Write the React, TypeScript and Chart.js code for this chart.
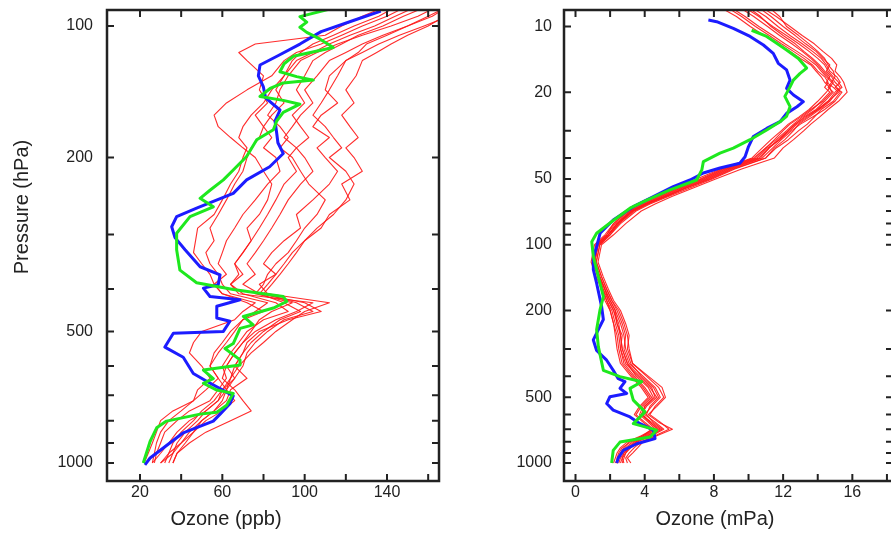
import React, { useEffect, useRef } from "react";
import { Chart, registerables } from "chart.js";
Chart.register(...registerables);

const FONT = "'Liberation Sans', Arial, Helvetica, sans-serif";
const INK = "#222";

// ---------- axes ----------
const ppbPressureTicks = [100, 200, 300, 400, 500, 600, 700, 800, 900, 1000];
const ppbPressureLabels = [100, 200, 500, 1000];
const ppbTicks = [20, 40, 60, 80, 100, 120, 140, 160];
const ppbLabels = [20, 60, 100, 140];

const mpaPressureTicks = [10, 20, 30, 40, 50, 60, 70, 80, 90, 100, 200, 300, 400, 500, 600, 700, 800, 900, 1000];
const mpaPressureLabels = [10, 20, 50, 100, 200, 500, 1000];
const mpaTicks = [0, 2, 4, 6, 8, 10, 12, 14, 16, 18];
const mpaLabels = [0, 4, 8, 12, 16];

// ---------- left panel: ozone mixing ratio (ppb) ----------
const ppbLevels = [90, 95, 100, 105, 110, 115, 120, 130, 140, 150, 160, 170, 180, 190, 200, 215, 230, 250, 270, 290, 310, 330, 350, 370, 390, 410, 430, 450, 470, 500, 530, 560, 600, 640, 680, 720, 760, 800, 850, 900, 950, 1000];
const redPpb1 = [175, 168, 160, 150, 142, 135, 128, 125, 120, 124, 118, 122, 126, 120, 124, 128, 118, 122, 112, 108, 100, 96, 92, 88, 84, 80, 96, 104, 90, 82, 76, 72, 70, 66, 62, 58, 52, 48, 42, 38, 36, 34];
const redPpb2 = [170, 160, 150, 140, 130, 126, 120, 112, 110, 116, 108, 104, 112, 106, 110, 116, 112, 104, 96, 98, 90, 84, 80, 86, 78, 82, 112, 100, 94, 86, 80, 74, 68, 64, 60, 56, 50, 46, 40, 36, 34, 32];
const redPpb3 = [160, 148, 138, 126, 118, 110, 104, 100, 96, 100, 94, 98, 102, 96, 100, 104, 98, 92, 88, 84, 80, 76, 72, 76, 70, 78, 100, 108, 92, 78, 72, 70, 66, 72, 64, 62, 56, 50, 44, 40, 36, 30];
const redPpb4 = [150, 140, 128, 118, 108, 96, 90, 84, 72, 62, 56, 58, 64, 70, 76, 80, 84, 82, 78, 72, 74, 70, 66, 68, 64, 70, 86, 92, 80, 72, 68, 64, 60, 62, 58, 54, 44, 38, 32, 30, 28, 27];
const redPpb5 = [165, 155, 142, 128, 116, 106, 98, 92, 88, 86, 82, 88, 92, 88, 94, 98, 102, 110, 106, 100, 96, 92, 86, 82, 80, 76, 94, 84, 78, 74, 70, 66, 62, 66, 60, 58, 52, 44, 38, 34, 30, 26];
const redPpb6 = [140, 128, 118, 110, 76, 68, 72, 80, 78, 82, 76, 80, 84, 80, 86, 88, 82, 76, 70, 66, 62, 60, 58, 62, 56, 60, 72, 80, 70, 66, 62, 58, 54, 58, 52, 46, 36, 30, 28, 26, 24, 22];
const redPpb7 = [180, 170, 158, 146, 136, 128, 120, 116, 112, 108, 104, 110, 114, 118, 112, 120, 124, 120, 114, 106, 100, 94, 90, 86, 82, 78, 90, 98, 88, 80, 74, 70, 66, 64, 62, 60, 56, 50, 46, 42, 38, 36];
const redPpb8 = [155, 144, 134, 122, 112, 104, 96, 90, 84, 80, 74, 70, 68, 72, 70, 68, 64, 60, 56, 48, 47, 46, 50, 54, 56, 60, 76, 70, 66, 50, 46, 44, 50, 54, 48, 46, 40, 34, 30, 28, 27, 26];
const redPpb9 = [145, 136, 124, 114, 104, 98, 94, 90, 86, 90, 84, 80, 78, 74, 72, 70, 66, 62, 58, 54, 56, 52, 54, 58, 60, 64, 82, 76, 70, 64, 60, 56, 54, 58, 62, 66, 60, 52, 46, 40, 34, 30];
const redPpb10 = [170, 162, 150, 138, 128, 120, 112, 106, 100, 104, 98, 94, 90, 96, 92, 96, 90, 86, 82, 78, 74, 70, 66, 70, 64, 68, 104, 96, 86, 76, 70, 66, 62, 60, 66, 70, 74, 64, 52, 44, 38, 36];

const bluePpbP = [92.5, 97, 103, 110, 117, 122.8, 130, 137.6, 146, 155.7, 165, 175.7, 185, 195.8, 210, 225, 241.5, 261, 273, 288, 305, 325, 355.6, 371, 391, 398, 416, 423, 438, 466, 474, 500, 505, 543, 573, 624, 650, 702, 732, 773, 802, 853, 924, 974, 1010];
const bluePpb = [137, 124, 108, 97.7, 87, 78.3, 77.5, 79.9, 81, 88, 85.6, 86.4, 87, 89.6, 83, 71.8, 65.3, 47.5, 37.8, 35.4, 37, 41.9, 49.2, 58.9, 58, 50.8, 54, 68.6, 57.3, 57.3, 63.7, 60.5, 36.2, 32.1, 41, 45.9, 52.4, 65.3, 63.7, 58.9, 55.6, 41, 31.3, 24.9, 22.4];

const greenPpbP = [91, 95.2, 98, 100.7, 103.4, 107.2, 112, 117.3, 122, 127.3, 130.6, 133, 135, 139, 145, 148, 151, 157.6, 165, 172.7, 182.1, 198.9, 213.5, 225, 237.6, 248, 259.3, 273, 298, 325, 362, 387, 401, 416, 427, 442, 462, 483, 492, 533, 547, 581, 597, 613, 641, 657, 681, 693, 738, 765, 773, 802, 831, 893, 1000];
const greenPpb = [114, 97.7, 101, 97.7, 101, 107.5, 113.9, 94.5, 90, 88, 96.1, 104.2, 89.6, 83.2, 78.3, 89.6, 97.7, 89.6, 86.4, 84.8, 76.7, 71.8, 65.3, 60.5, 54, 49.2, 55.6, 44.3, 37.8, 37.8, 39.4, 47.5, 65.3, 89.6, 91.3, 84.8, 70.2, 75, 68.6, 65.3, 61.3, 68.6, 68.6, 50.8, 55.6, 50.8, 57.3, 65.3, 62.1, 57.3, 49.2, 32.9, 28.1, 24.9, 21.6];

// ---------- right panel: ozone partial pressure (mPa) ----------
const mpaLevels = [8.2, 9, 10, 11, 12, 13, 14, 15, 16, 17, 18, 19, 20, 22, 24, 26, 28, 30, 33, 36, 40, 45, 50, 55, 60, 65, 70, 80, 90, 100, 120, 140, 160, 180, 200, 230, 260, 300, 350, 400, 450, 500, 550, 600, 650, 700, 750, 800, 850, 900, 950, 1000];
const redMpa1 = [10.8, 11.6, 12.4, 13.1, 13.8, 14.3, 14.8, 15.1, 15.0, 15.3, 15.5, 15.6, 15.7, 15.2, 14.6, 14.1, 13.6, 13.2, 12.6, 12.0, 11.5, 9.6, 8.1, 6.8, 5.6, 4.6, 3.8, 2.9, 2.2, 1.5, 1.3, 1.6, 1.9, 2.2, 2.6, 2.9, 3.1, 3.0, 3.3, 4.1, 4.8, 5.1, 4.6, 4.3, 4.9, 5.4, 4.6, 3.8, 3.4, 3.1, 2.9, 3.0];
const redMpa2 = [9.0, 9.8, 10.6, 11.4, 12.1, 12.8, 13.4, 13.9, 14.2, 14.5, 14.8, 14.6, 14.9, 14.4, 13.9, 13.2, 12.7, 12.3, 11.8, 11.2, 10.6, 8.8, 7.5, 6.2, 5.1, 4.1, 3.3, 2.4, 1.9, 1.3, 1.1, 1.4, 1.7, 2.0, 2.3, 2.4, 2.7, 2.6, 2.9, 3.6, 4.3, 4.7, 4.1, 3.8, 4.4, 4.9, 4.1, 3.4, 3.0, 2.8, 2.7, 2.6];
const redMpa3 = [11.2, 11.8, 12.2, 12.9, 13.5, 14.0, 14.4, 14.6, 14.9, 15.0, 14.8, 15.1, 15.3, 14.9, 14.2, 13.8, 13.4, 12.9, 12.3, 11.6, 11.0, 9.2, 7.9, 6.6, 5.4, 4.3, 3.5, 2.6, 2.0, 1.4, 1.2, 1.5, 1.8, 2.1, 2.4, 2.7, 2.9, 2.8, 3.1, 3.9, 4.6, 4.9, 4.4, 4.0, 4.6, 5.1, 4.4, 3.6, 3.2, 2.9, 2.8, 2.7];
const redMpa4 = [8.4, 9.3, 10.1, 10.9, 11.7, 12.4, 13.0, 13.6, 13.9, 14.2, 14.4, 14.7, 14.5, 14.0, 13.5, 12.9, 12.3, 11.9, 11.3, 10.8, 10.2, 8.4, 7.0, 5.8, 4.7, 3.8, 3.0, 2.2, 1.7, 1.1, 0.9, 1.2, 1.5, 1.7, 2.0, 2.2, 2.3, 2.4, 2.6, 3.2, 3.8, 4.2, 3.7, 3.4, 3.9, 4.4, 3.9, 3.2, 2.7, 2.5, 2.4, 2.4];
const redMpa5 = [10.2, 11.0, 11.7, 12.4, 13.1, 13.7, 14.2, 14.5, 14.7, 15.1, 15.3, 15.0, 15.4, 15.0, 14.4, 13.7, 13.0, 12.5, 11.9, 11.4, 10.8, 9.0, 7.7, 6.4, 5.3, 4.2, 3.4, 2.5, 1.9, 1.3, 1.1, 1.4, 1.7, 2.0, 2.3, 2.6, 2.8, 2.9, 3.2, 3.8, 4.5, 4.8, 4.3, 4.1, 4.5, 5.0, 4.3, 3.5, 3.1, 2.8, 2.6, 2.5];
const redMpa6 = [9.5, 10.3, 11.1, 11.8, 12.5, 13.1, 13.6, 14.0, 14.3, 14.6, 14.9, 14.7, 14.8, 14.3, 13.6, 13.0, 12.4, 12.0, 11.5, 11.0, 10.4, 8.6, 7.3, 6.0, 4.9, 4.0, 3.2, 2.3, 1.8, 1.2, 1.0, 1.3, 1.6, 1.8, 2.1, 2.3, 2.5, 2.6, 2.8, 3.4, 4.0, 4.4, 3.9, 3.7, 4.2, 4.6, 3.9, 3.1, 2.8, 2.6, 2.5, 2.3];
const redMpa7 = [10.6, 11.3, 12.0, 12.7, 13.3, 13.9, 14.3, 14.7, 14.5, 14.8, 15.0, 15.3, 15.0, 14.6, 14.0, 13.4, 12.8, 12.4, 11.8, 11.1, 10.5, 8.7, 7.4, 6.1, 5.0, 4.0, 3.2, 2.4, 1.9, 1.3, 1.1, 1.4, 1.6, 1.9, 2.2, 2.5, 2.6, 2.7, 3.0, 3.7, 4.4, 4.6, 4.0, 3.9, 4.3, 4.8, 4.2, 3.5, 3.1, 2.9, 2.7, 2.8];
const redMpa8 = [8.8, 9.6, 10.4, 11.2, 11.9, 12.6, 13.2, 13.7, 14.0, 14.4, 14.6, 14.4, 14.7, 14.2, 13.7, 13.1, 12.6, 12.2, 11.6, 11.0, 10.3, 8.5, 7.2, 5.9, 4.8, 3.9, 3.1, 2.2, 1.8, 1.2, 1.0, 1.3, 1.5, 1.8, 2.0, 2.2, 2.4, 2.5, 2.7, 3.3, 3.9, 4.3, 3.8, 3.5, 4.0, 4.5, 3.8, 3.0, 2.6, 2.4, 2.3, 2.2];
const redMpa9 = [9.8, 10.6, 11.4, 12.2, 12.9, 13.5, 14.0, 14.4, 14.6, 14.9, 15.2, 15.4, 15.1, 14.7, 14.1, 13.5, 12.9, 12.6, 12.1, 11.5, 11.0, 9.1, 7.8, 6.4, 5.2, 4.1, 3.3, 2.5, 2.0, 1.4, 1.2, 1.5, 1.8, 2.1, 2.5, 2.8, 3.0, 3.1, 3.3, 4.2, 5.0, 5.2, 4.7, 4.2, 4.8, 5.6, 4.7, 3.9, 3.6, 3.3, 3.0, 3.2];
const redMpa10 = [10.0, 10.7, 11.3, 12.0, 12.7, 13.2, 13.7, 14.1, 14.4, 14.7, 14.5, 14.9, 15.2, 14.6, 14.0, 13.3, 12.7, 12.3, 11.7, 11.2, 10.7, 8.9, 7.6, 6.3, 5.2, 4.1, 3.3, 2.4, 1.9, 1.3, 1.1, 1.4, 1.7, 1.9, 2.2, 2.4, 2.6, 2.7, 3.0, 3.5, 4.2, 4.5, 4.0, 3.8, 4.3, 4.7, 4.0, 3.3, 2.9, 2.6, 2.5, 2.4];

const blueMpaP = [9.34, 9.5, 10.2, 11.1, 12.15, 13.27, 14.74, 15.81, 17.58, 19.2, 20.6, 22.1, 23.3, 25, 27.3, 29.3, 31.9, 35.5, 39.5, 42.3, 44.5, 46.9, 50.5, 54.2, 60.2, 66.9, 77, 88.6, 102, 115, 130, 150, 192, 220, 245, 273, 305, 338, 376, 411, 424, 455, 480, 497, 534, 572, 615, 660, 707, 773, 816, 875, 950, 1000];
const blueMpa = [7.68, 8.16, 9.12, 10.09, 10.86, 11.43, 11.72, 12.2, 12.4, 12.2, 12.6, 13.17, 12.8, 12.2, 11.82, 11.05, 10.28, 10, 9.8, 9.5, 8.35, 7.39, 6.62, 5.65, 4.5, 3.34, 2.18, 1.42, 1.22, 1.03, 1.03, 1.22, 1.51, 1.61, 1.32, 1.03, 1.22, 1.8, 2.18, 2.47, 2.86, 2.57, 2.96, 1.99, 1.8, 2.18, 3.15, 3.73, 4.5, 4.6, 3.54, 2.76, 2.47, 2.38];

const greenMpaP = [10.4, 11.1, 11.94, 12.8, 14.0, 15.5, 16.4, 17.6, 18.9, 20.9, 23.3, 25.8, 27.3, 29.8, 33, 36.1, 38, 41.6, 45.4, 50.5, 56, 62.4, 68, 79.5, 88.6, 96.9, 113, 140, 173, 198, 245, 293, 376, 402, 424, 455, 515, 583, 660, 707, 760, 802, 875, 1000];
const greenMpa = [10.18, 11.05, 11.63, 12.2, 12.88, 13.36, 12.98, 12.59, 12.4, 12.1, 12.4, 12.2, 11.82, 11.05, 10.09, 9.12, 8.35, 7.39, 7.3, 7.0, 5.46, 4.12, 3.15, 1.99, 1.22, 0.94, 1.03, 1.32, 1.61, 1.42, 1.22, 1.32, 1.61, 2.57, 3.83, 3.15, 3.34, 4.02, 3.34, 4.69, 4.31, 2.57, 2.18, 2.09];

const redPpbSeries = [redPpb1, redPpb2, redPpb3, redPpb4, redPpb5, redPpb6, redPpb7, redPpb8, redPpb9, redPpb10];
const redMpaSeries = [redMpa1, redMpa2, redMpa3, redMpa4, redMpa5, redMpa6, redMpa7, redMpa8, redMpa9, redMpa10];

const RED = "rgba(255,25,25,0.92)";
const BLUE = "rgb(28,28,255)";
const GREEN = "rgb(30,232,30)";

function pts(ozone: number[], pres: number[]) {
  return ozone.map((o, i) => ({ x: o, y: pres[i] }));
}

function lineDs(data: any[], color: string, width: number) {
  return {
    data,
    borderColor: color,
    borderWidth: width,
    pointRadius: 0,
    showLine: true,
    fill: false,
    tension: 0,
    borderJoinStyle: "round" as const,
  };
}

const frameTicks = {
  id: "frameTicks",
  afterDatasetsDraw(chart: any, _args: any, opts: any) {
    const { ctx, chartArea: a, scales } = chart;
    const xs = scales.x;
    const ys = scales.y;
    const L = 7;
    ctx.save();
    ctx.strokeStyle = INK;
    ctx.lineWidth = 2;
    ctx.beginPath();
    xs.ticks.forEach((t: any) => {
      const px = xs.getPixelForValue(t.value);
      ctx.moveTo(px, a.bottom);
      ctx.lineTo(px, a.bottom - L);
      ctx.moveTo(px, a.top);
      ctx.lineTo(px, a.top + L);
    });
    ys.ticks.forEach((t: any) => {
      const py = ys.getPixelForValue(t.value);
      ctx.moveTo(a.left, py);
      ctx.lineTo(a.left + L, py);
      ctx.moveTo(a.right, py);
      ctx.lineTo(a.right - L, py);
    });
    ctx.stroke();
    ctx.lineWidth = 2.5;
    ctx.strokeRect(a.left, a.top, a.right - a.left, a.bottom - a.top);
    // axis titles
    ctx.fillStyle = INK;
    ctx.font = `20px ${FONT}`;
    ctx.textAlign = "center";
    ctx.textBaseline = "middle";
    (opts.titles || []).forEach((t: any) => {
      ctx.save();
      ctx.translate(t.x, t.y);
      if (t.rotate) ctx.rotate(-Math.PI / 2);
      ctx.fillText(t.text, 0, 0);
      ctx.restore();
    });
    ctx.restore();
  },
};

type Panel = {
  datasets: any[];
  xMin: number; xMax: number; yMin: number; yMax: number;
  xTicks: number[]; xLabels: number[]; yTicks: number[]; yLabels: number[];
  yAxisWidth: number; yPad: number; padRight: number;
  titles: any[];
};

function buildConfig(p: Panel): any {
  return {
    type: "scatter",
    data: { datasets: p.datasets },
    options: {
      animation: false,
      responsive: false,
      maintainAspectRatio: false,
      layout: { padding: { top: 10, right: p.padRight, bottom: 0, left: 0 } },
      plugins: { legend: { display: false }, tooltip: { enabled: false }, frameTicks: { titles: p.titles } },
      scales: {
        x: {
          type: "linear",
          position: "bottom",
          min: p.xMin,
          max: p.xMax,
          bounds: "data",
          grid: { display: false, drawTicks: false },
          border: { display: false },
          afterBuildTicks: (s: any) => { s.ticks = p.xTicks.map((v) => ({ value: v })); },
          afterFit: (s: any) => {
            s.height = 53;
            s.paddingLeft = 0; s.paddingRight = 0; s.paddingTop = 0; s.paddingBottom = 0;
          },
          ticks: {
            autoSkip: false,
            maxRotation: 0,
            padding: 2,
            color: INK,
            font: { family: FONT, size: 16 },
            callback: (v: any) => (p.xLabels.includes(Number(v)) ? String(v) : ""),
          },
        },
        y: {
          type: "logarithmic",
          position: "left",
          reverse: true,
          min: p.yMin,
          max: p.yMax,
          bounds: "data",
          grid: { display: false, drawTicks: false },
          border: { display: false },
          afterBuildTicks: (s: any) => { s.ticks = p.yTicks.map((v) => ({ value: v })); },
          afterFit: (s: any) => {
            s.width = p.yAxisWidth;
            s.paddingLeft = 0; s.paddingRight = 0; s.paddingTop = 0; s.paddingBottom = 0;
          },
          ticks: {
            autoSkip: false,
            padding: p.yPad,
            color: INK,
            font: { family: FONT, size: 16 },
            callback: (v: any) => (p.yLabels.includes(Number(v)) ? String(v) : ""),
          },
        },
      },
    },
    plugins: [frameTicks],
  };
}

const leftPanel: Panel = {
  datasets: [
    lineDs(pts(greenPpb, greenPpbP), GREEN, 3),
    lineDs(pts(bluePpb, bluePpbP), BLUE, 3),
    ...redPpbSeries.map((s) => lineDs(pts(s, ppbLevels), RED, 1.1)),
  ],
  xMin: 3.97, xMax: 165.26, yMin: 91.92, yMax: 1099.6,
  xTicks: ppbTicks, xLabels: ppbLabels, yTicks: ppbPressureTicks, yLabels: ppbPressureLabels,
  yAxisWidth: 107, yPad: 14, padRight: 6,
  titles: [
    { text: "Pressure (hPa)", x: 22, y: 207, rotate: true },
    { text: "Ozone (ppb)", x: 226, y: 519 },
  ],
};

const rightPanel: Panel = {
  datasets: [
    lineDs(pts(greenMpa, greenMpaP), GREEN, 3),
    lineDs(pts(blueMpa, blueMpaP), BLUE, 3),
    ...redMpaSeries.map((s) => lineDs(pts(s, mpaLevels), RED, 1.1)),
  ],
  xMin: -0.665, xMax: 18.35, yMin: 8.4, yMax: 1209,
  xTicks: mpaTicks, xLabels: mpaLabels, yTicks: mpaPressureTicks, yLabels: mpaPressureLabels,
  yAxisWidth: 119, yPad: 12, padRight: 12,
  titles: [{ text: "Ozone (mPa)", x: 270, y: 519 }],
};

function PanelChart({ panel, left, width }: { panel: Panel; left: number; width: number }) {
  const ref = useRef<HTMLCanvasElement | null>(null);
  useEffect(() => {
    if (!ref.current) return;
    const chart = new Chart(ref.current, buildConfig(panel));
    return () => chart.destroy();
  }, [panel]);
  return (
    <canvas
      ref={ref}
      width={width}
      height={534}
      style={{ position: "absolute", left, top: 0, width, height: 534 }}
    />
  );
}

export default function App() {
  return (
    <div style={{ position: "fixed", left: 0, top: 0, width: 891, height: 534, overflow: "hidden", background: "#fff" }}>
      <PanelChart panel={leftPanel} left={0} width={445} />
      <PanelChart panel={rightPanel} left={445} width={460} />
    </div>
  );
}
